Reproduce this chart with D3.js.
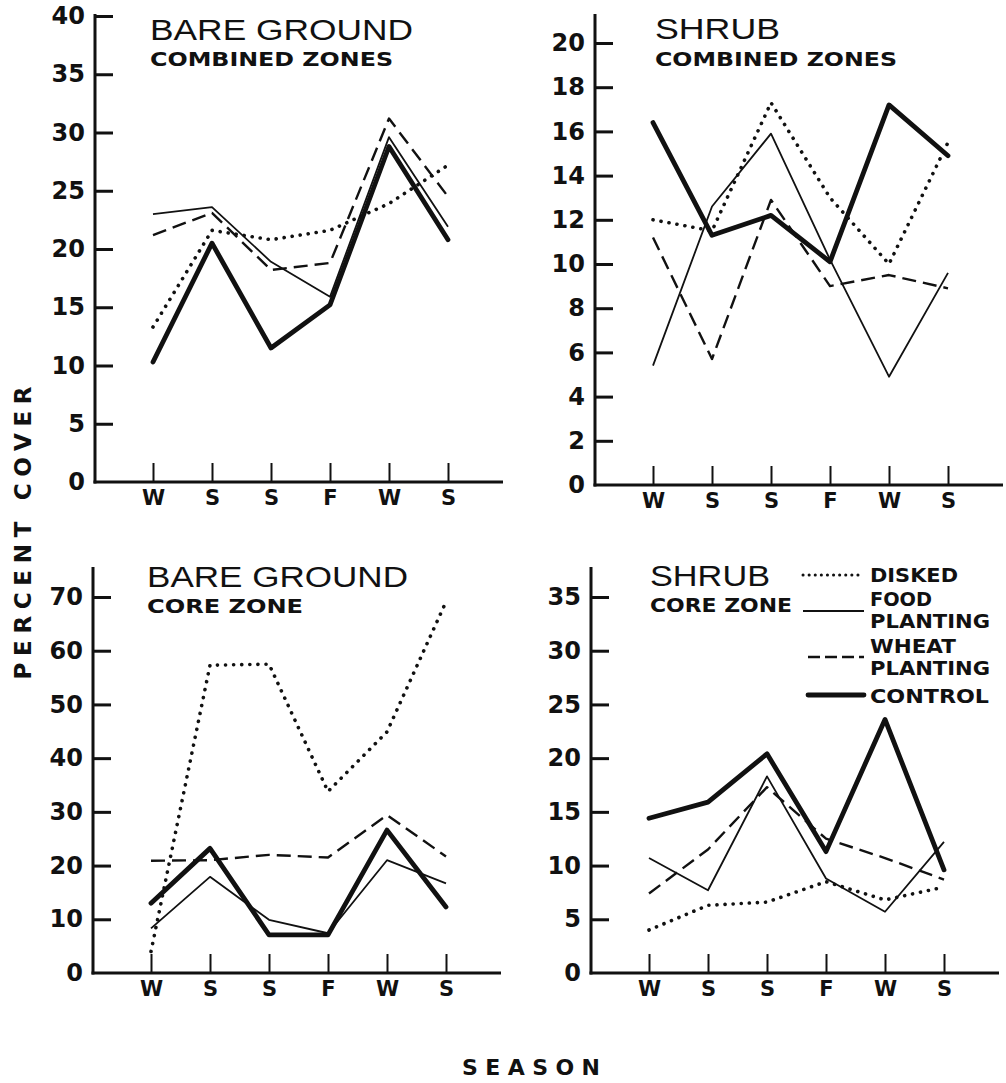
<!DOCTYPE html>
<html>
<head>
<meta charset="utf-8">
<script src="https://cdn.jsdelivr.net/npm/d3@7"></script>
<style>
body { margin: 0; background: white; }
text { font-family: 'DejaVu Sans', sans-serif; fill: #111; }
.bold { font-weight: bold; }
.title { font-family: 'Liberation Sans', sans-serif; font-weight: normal; }
</style>
</head>
<body>
<script>
let seasons = ['W', 'S', 'S', 'F', 'W', 'S']
let treatments = ['disked', 'food', 'wheat', 'control']
let legendLabels = [['DISKED'], ['FOOD', 'PLANTING'], ['WHEAT', 'PLANTING'], ['CONTROL']]

// bare ground, combined zones
let bareCombinedDisked = [13.3, 21.6, 20.8, 21.6, 23.9, 27.2]
let bareCombinedFood = [23.0, 23.6, 18.9, 15.9, 29.6, 21.9]
let bareCombinedWheat = [21.2, 23.1, 18.2, 18.8, 31.2, 24.5]
let bareCombinedControl = [10.3, 20.5, 11.5, 15.2, 28.8, 20.8]

// shrub, combined zones
let shrubCombinedDisked = [12.0, 11.5, 17.3, 13.0, 10.0, 15.5]
let shrubCombinedFood = [5.4, 12.6, 15.9, 10.2, 4.9, 9.6]
let shrubCombinedWheat = [11.2, 5.7, 12.9, 9.0, 9.5, 8.9]
let shrubCombinedControl = [16.4, 11.3, 12.2, 10.1, 17.2, 14.9]

// bare ground, core zone
let bareCoreDisked = [4.0, 57.3, 57.5, 33.8, 44.9, 69.1]
let bareCoreFood = [8.3, 17.9, 9.9, 7.4, 21.0, 16.7]
let bareCoreWheat = [20.9, 21.0, 22.0, 21.5, 29.4, 21.7]
let bareCoreControl = [13.0, 23.2, 7.1, 7.1, 26.6, 12.3]

// shrub, core zone
let shrubCoreDisked = [4.0, 6.3, 6.6, 8.5, 6.8, 8.0]
let shrubCoreFood = [10.7, 7.7, 18.3, 8.8, 5.7, 12.2]
let shrubCoreWheat = [7.4, 11.5, 17.3, 12.5, 10.7, 8.7]
let shrubCoreControl = [14.4, 15.9, 20.4, 11.3, 23.6, 9.6]

let lineStyle = {
    disked: { width: 3.6, dash: '0.1 8', cap: 'round' },
    food: { width: 1.8, dash: null, cap: 'butt' },
    wheat: { width: 2.4, dash: '14 7', cap: 'butt' },
    control: { width: 4.8, dash: null, cap: 'round' }
}

let panels = [
    { title: 'BARE GROUND', sub: 'COMBINED ZONES', series: [bareCombinedDisked, bareCombinedFood, bareCombinedWheat, bareCombinedControl],
      ticks: d3.range(0, 41, 5), yMax: 40, left: 95, zero: 482, maxPx: 16, axisTop: 14,
      tx: 150, ty: 40, tw: 263, sy: 66, sw: 243 },
    { title: 'SHRUB', sub: 'COMBINED ZONES', series: [shrubCombinedDisked, shrubCombinedFood, shrubCombinedWheat, shrubCombinedControl],
      ticks: d3.range(0, 21, 2), yMax: 20, left: 595, zero: 485, maxPx: 43, axisTop: 14,
      tx: 655, ty: 39, tw: 125, sy: 66, sw: 242 },
    { title: 'BARE GROUND', sub: 'CORE ZONE', series: [bareCoreDisked, bareCoreFood, bareCoreWheat, bareCoreControl],
      ticks: d3.range(0, 71, 10), yMax: 70, left: 93, zero: 973, maxPx: 597, axisTop: 567,
      tx: 147, ty: 587, tw: 261, sy: 613, sw: 156 },
    { title: 'SHRUB', sub: 'CORE ZONE', series: [shrubCoreDisked, shrubCoreFood, shrubCoreWheat, shrubCoreControl],
      ticks: d3.range(0, 36, 5), yMax: 35, left: 591, zero: 973, maxPx: 597, axisTop: 567,
      tx: 650, ty: 586, tw: 120, sy: 612, sw: 142 }
]

let svg = d3.select('body')
    .append('svg')
        .attr('width', 1006)
        .attr('height', 1083)

panels.forEach(function(p){
    let g = svg.append('g')

    let x = d3.scaleLinear()
        .domain([0, seasons.length - 1])
        .range([p.left + 58, p.left + 353])

    let y = d3.scaleLinear()
        .domain([0, p.yMax])
        .range([p.zero, p.maxPx])

    // axis lines
    g.append('line')
        .attr('x1', p.left).attr('x2', p.left)
        .attr('y1', p.zero + 1.5).attr('y2', p.axisTop)
        .attr('stroke', '#111').attr('stroke-width', 3)
    g.append('line')
        .attr('x1', p.left - 1.5).attr('x2', p.left + 408)
        .attr('y1', p.zero).attr('y2', p.zero)
        .attr('stroke', '#111').attr('stroke-width', 3)

    let yAxis = g.append('g')
        .attr('transform', 'translate(' + p.left + ',0)')
        .call(d3.axisLeft(y).tickValues(p.ticks).tickSizeInner(-18).tickSizeOuter(0).tickPadding(10))
    yAxis.select('.domain').remove()
    yAxis.selectAll('.tick line').attr('stroke', '#111').attr('stroke-width', 3)
        .filter(d => d === 0).remove()
    yAxis.selectAll('.tick text')
        .attr('class', 'bold')
        .style('font-size', '24px')
        .style('font-family', "'DejaVu Sans', sans-serif")
        .attr('fill', '#111')

    let xAxis = g.append('g')
        .attr('transform', 'translate(0,' + p.zero + ')')
        .call(d3.axisBottom(x).tickValues(d3.range(seasons.length)).tickFormat(i => seasons[i])
            .tickSizeInner(-19).tickSizeOuter(0).tickPadding(8))
    xAxis.select('.domain').remove()
    xAxis.selectAll('.tick line').attr('stroke', '#111').attr('stroke-width', 2)
    xAxis.selectAll('.tick text')
        .attr('class', 'bold')
        .style('font-size', '21px')
        .style('font-family', "'DejaVu Sans', sans-serif")
        .attr('fill', '#111')

    let line = d3.line()
        .x((d, i) => x(i))
        .y(d => y(d))

    g.selectAll('path.series')
        .data(p.series)
        .enter()
        .append('path')
            .attr('class', 'series')
            .attr('d', line)
            .attr('fill', 'none')
            .attr('stroke', '#111')
            .attr('stroke-linejoin', 'round')
            .each(function(d, i){
                let s = lineStyle[treatments[i]]
                d3.select(this)
                    .attr('stroke-width', s.width)
                    .attr('stroke-linecap', s.cap)
                    .attr('stroke-dasharray', s.dash)
            })

    g.append('text')
        .attr('class', 'title')
        .attr('x', p.tx).attr('y', p.ty)
        .attr('textLength', p.tw)
        .attr('lengthAdjust', 'spacingAndGlyphs')
        .style('font-size', '29px')
        .text(p.title)
    g.append('text')
        .attr('class', 'bold')
        .attr('x', p.tx).attr('y', p.sy)
        .attr('textLength', p.sw)
        .attr('lengthAdjust', 'spacingAndGlyphs')
        .style('font-size', '20px')
        .text(p.sub)
})

// legend
let legendY = [575, 611, 657, 695]
let legendText = [[582], [606, 628], [653, 675], [703]]
let legendWidth = { DISKED: 88, FOOD: 62, PLANTING: 120, WHEAT: 86, CONTROL: 119 }
let legend = svg.append('g')
treatments.forEach(function(t, i){
    let s = lineStyle[t]
    legend.append('line')
        .attr('x1', i < 2 ? 803 : 808).attr('x2', 864)
        .attr('y1', legendY[i]).attr('y2', legendY[i])
        .attr('stroke', '#111')
        .attr('stroke-width', t === 'disked' ? 3 : s.width)
        .attr('stroke-linecap', s.cap)
        .attr('stroke-dasharray', t === 'disked' ? '0.1 6' : (t === 'wheat' ? '12 5' : null))
    legendLabels[i].forEach(function(label, j){
        legend.append('text')
            .attr('class', 'bold')
            .attr('x', 870)
            .attr('y', legendText[i][j])
            .attr('textLength', legendWidth[label])
            .attr('lengthAdjust', 'spacingAndGlyphs')
            .style('font-size', '19px')
            .text(label)
    })
})

// axis titles
svg.append('text')
    .attr('class', 'bold')
    .attr('transform', 'translate(31,533) rotate(-90)')
    .attr('text-anchor', 'middle')
    .attr('textLength', 293)
    .attr('lengthAdjust', 'spacing')
    .style('font-size', '23px')
    .text('PERCENT   COVER')

svg.append('text')
    .attr('class', 'bold')
    .attr('x', 462)
    .attr('y', 1075)
    .attr('textLength', 138)
    .attr('lengthAdjust', 'spacing')
    .style('font-size', '22px')
    .text('SEASON')
</script>
</body>
</html>
